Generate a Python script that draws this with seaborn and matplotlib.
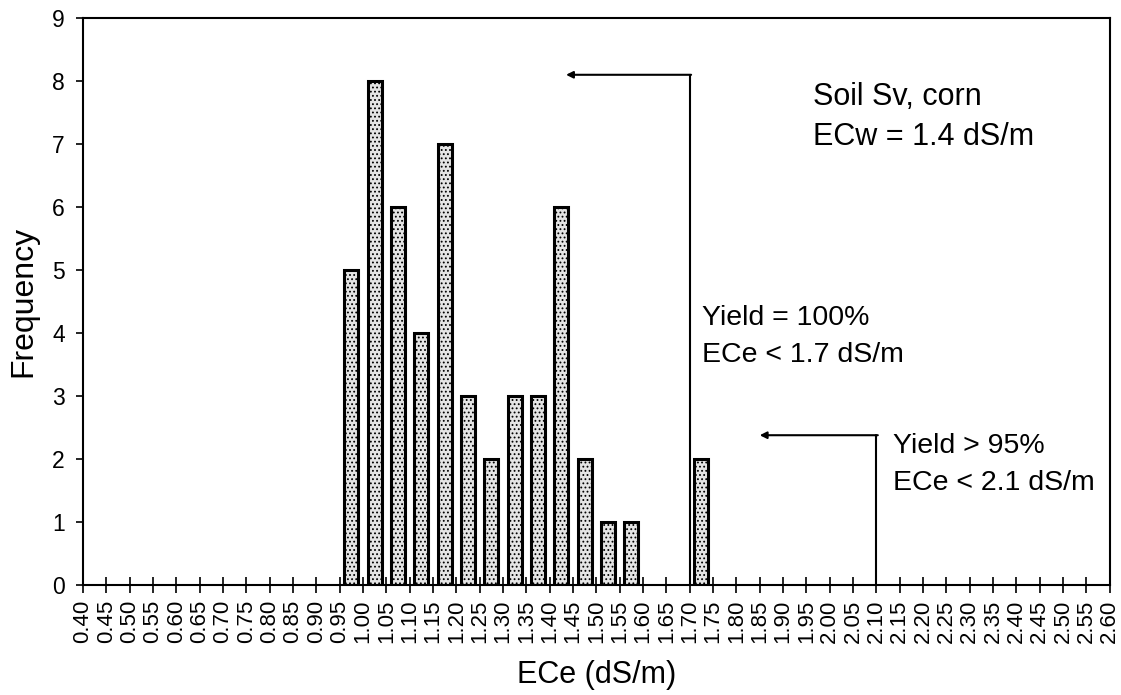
import numpy as np
import pandas as pd
import matplotlib
matplotlib.use("Agg")
import matplotlib.pyplot as plt
import seaborn as sns

# Histogram of ECe readings: bins labelled by their upper edge (dS/m)
bin_upper = [1.00, 1.05, 1.10, 1.15, 1.20, 1.25, 1.30, 1.35, 1.40, 1.45,
             1.50, 1.55, 1.60, 1.75]
frequency = [5, 8, 6, 4, 7, 3, 2, 3, 3, 6, 2, 1, 1, 2]

# Category axis labels
tick_values = [round(0.40 + 0.05 * i, 2) for i in range(45)]
tick_labels = [f"{v:.2f}" for v in tick_values]

bin_width = 0.05
# Threshold annotations
thr_100 = 1.70
thr_95 = 2.10

sns.set_theme(style="white")
plt.rcParams["font.family"] = ["Liberation Sans", "DejaVu Sans"]
plt.rcParams["text.color"] = "black"
plt.rcParams["axes.labelcolor"] = "black"
plt.rcParams["hatch.color"] = "#9a9a9a"
plt.rcParams["hatch.linewidth"] = 0.8

df = pd.DataFrame({"center": [u - bin_width / 2 for u in bin_upper],
                   "count": frequency})

fig = plt.figure(figsize=(11.21, 6.95), dpi=100)
ax = fig.add_axes([0.074, 0.158, 0.916, 0.816])

sns.barplot(data=df, x="center", y="count", native_scale=True, width=0.6,
            color="#e4e4e4", edgecolor="black", linewidth=2.2,
            saturation=1, ax=ax)
for p in ax.patches:
    p.set_hatch("....")

ax.set_xlim(tick_values[0], tick_values[-1])
ax.set_ylim(0, 9)
ax.set_yticks(range(10))
ax.set_yticklabels([str(i) for i in range(10)], fontsize=16.5)
ax.set_xticks(tick_values)
ax.set_xticklabels(tick_labels, rotation=90, fontsize=16)
ax.tick_params(axis="x", direction="inout", length=11, width=1.2,
               color="black", labelcolor="black", pad=5, bottom=True)
ax.tick_params(axis="y", direction="out", length=5, width=1.2,
               color="black", labelcolor="black", pad=8, left=True)
for s in ax.spines.values():
    s.set_color("black")
    s.set_linewidth(1.5)
ax.grid(False)

ax.set_xlabel("ECe (dS/m)", fontsize=22, labelpad=12, color="black")
ax.set_ylabel("Frequency", fontsize=23, labelpad=10, color="black")

# Yield = 100% bracket
ax.plot([thr_100, thr_100], [0, 8.1], color="black", lw=1.5)
ax.annotate("", xy=(1.435, 8.1), xytext=(thr_100 + 0.003, 8.1),
            arrowprops=dict(arrowstyle="-|>", color="black", lw=1.5,
                            mutation_scale=10, shrinkA=0, shrinkB=0))
# Yield > 95% bracket
ax.plot([thr_95, thr_95], [0, 2.38], color="black", lw=1.5)
ax.annotate("", xy=(1.85, 2.38), xytext=(thr_95 + 0.003, 2.38),
            arrowprops=dict(arrowstyle="-|>", color="black", lw=1.5,
                            mutation_scale=10, shrinkA=0, shrinkB=0))

big = dict(fontsize=22, color="black", va="baseline", ha="left")
mid = dict(fontsize=20.5, color="black", va="baseline", ha="left")
ax.text(1.964, 7.62, "Soil Sv, corn", **big)
ax.text(1.964, 6.98, "ECw = 1.4 dS/m", **big)
ax.text(1.726, 4.13, "Yield = 100%", **mid)
ax.text(1.726, 3.54, "ECe < 1.7 dS/m", **mid)
ax.text(2.135, 2.09, "Yield > 95%", **mid)
ax.text(2.135, 1.51, "ECe < 2.1 dS/m", **mid)

fig.savefig("out.png", dpi=100, facecolor="white")
